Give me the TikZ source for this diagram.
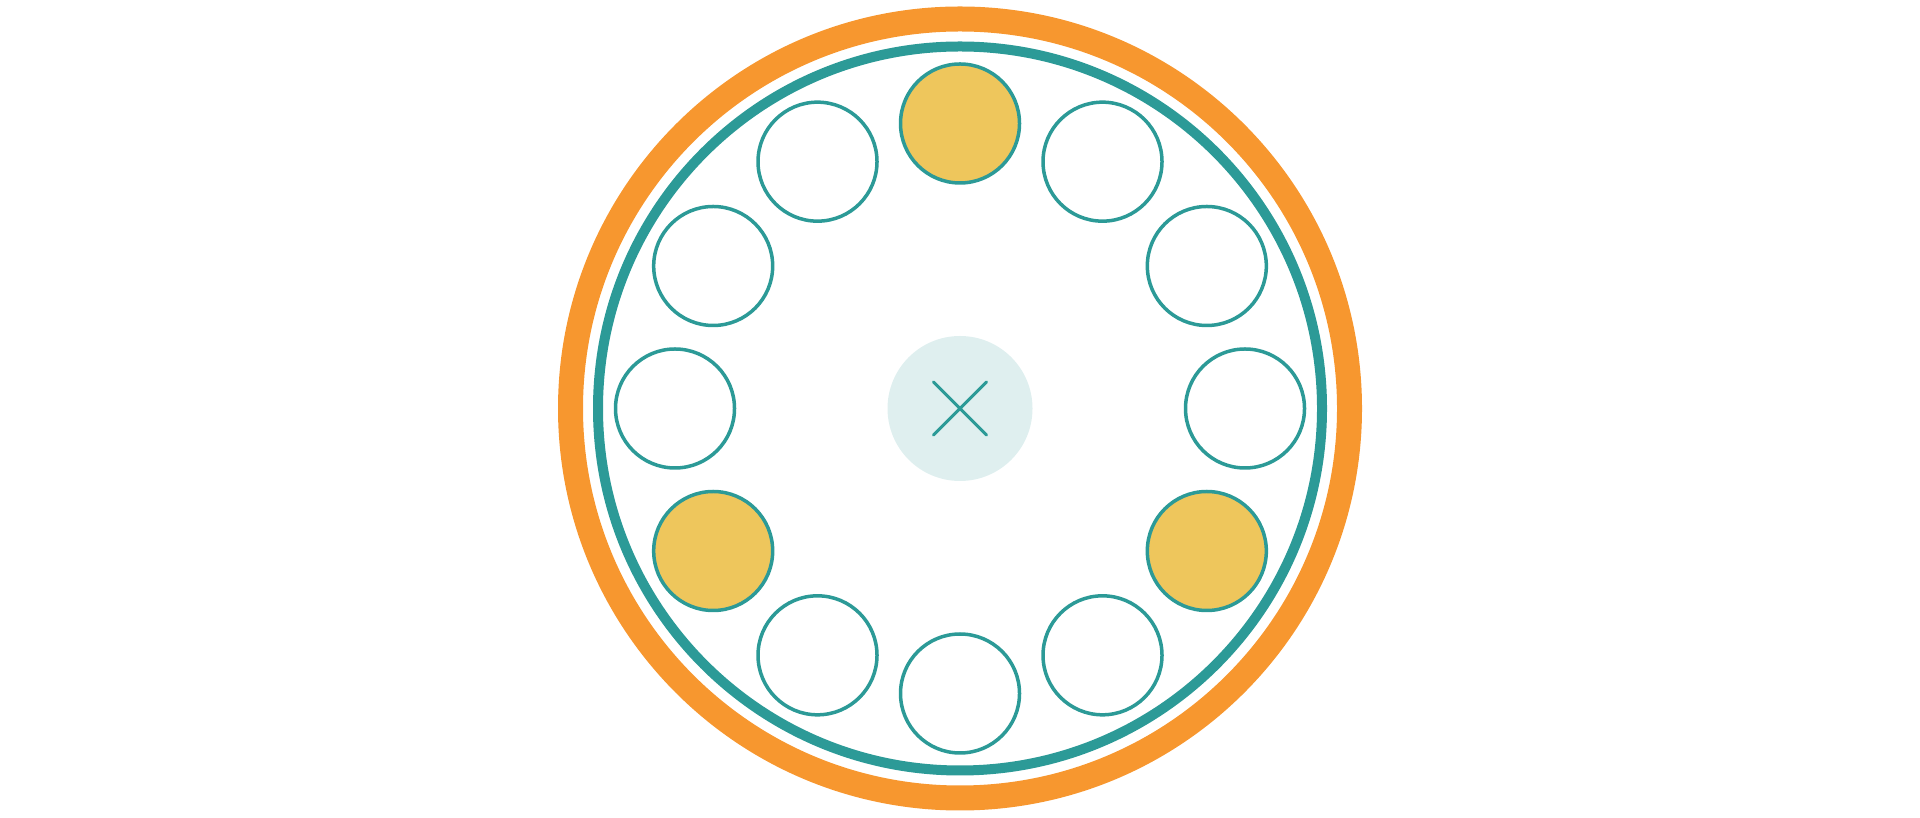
\documentclass[tikz,border=0pt]{standalone}
\usetikzlibrary{calc}
\definecolor{ringorange}{HTML}{F7972F}
\definecolor{teal1}{HTML}{2C9A97}
\definecolor{gold1}{HTML}{EEC65C}
\definecolor{pale1}{HTML}{DFEFEF}
\begin{document}
\begin{tikzpicture}[x=0.5pt,y=0.5pt,
  seat/.style={circle,draw=teal1,line width=1.75pt,minimum size=119*0.5pt,inner sep=0pt,fill=white},
  taken/.style={seat,fill=gold1},
  hub/.style={circle,fill=pale1,minimum size=145*0.5pt,inner sep=0pt}]
\useasboundingbox (0,0) rectangle (1920,818);
\coordinate (c) at (960,409.5);
\draw[ringorange,line width=12.5pt] (c) circle[radius=389.5];
\draw[teal1,line width=5pt] (c) circle[radius=362];
\foreach \i in {0,...,11}{
  \pgfmathsetmacro\ang{90-30*\i}
  \ifnum\i=0 \def\sty{taken}\else\ifnum\i=4 \def\sty{taken}\else\ifnum\i=8 \def\sty{taken}\else\def\sty{seat}\fi\fi\fi
  \node[\sty] (s\i) at ($(c)+(\ang:285)$) {};
}
\node[hub] (h) at (c) {};
\draw[teal1,line width=1.5pt,line cap=round] ($(h.center)+(-26.5,26.5)$) -- ($(h.center)+(26.5,-26.5)$)
  ($(h.center)+(-26.5,-26.5)$) -- ($(h.center)+(26.5,26.5)$);
\end{tikzpicture}
\end{document}
